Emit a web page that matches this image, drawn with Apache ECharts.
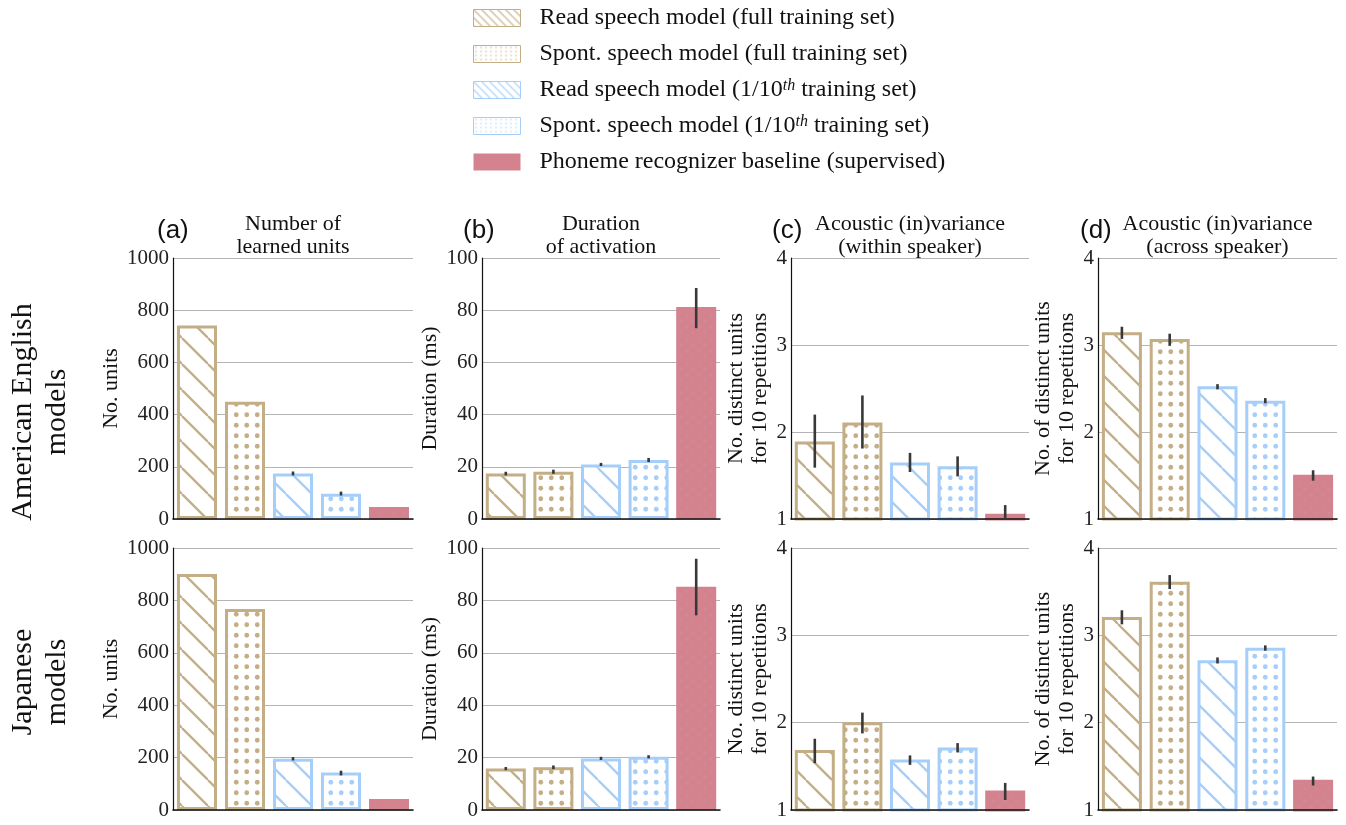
<!DOCTYPE html>
<html><head><meta charset="utf-8">
<script src="https://cdn.jsdelivr.net/npm/echarts@6/dist/echarts.min.js"></script>
<style>html,body{margin:0;padding:0;background:#fff}#chart{width:1346px;height:825px}</style>
</head><body><div id="chart"></div>
<script>
// ---------------- data ----------------
const categories = ['Read (full)', 'Spont. (full)', 'Read (1/10)', 'Spont. (1/10)', 'Baseline'];
const seriesNames = [
  'Read speech model (full training set)',
  'Spont. speech model (full training set)',
  'Read speech model (1/10th training set)',
  'Spont. speech model (1/10th training set)',
  'Phoneme recognizer baseline (supervised)'
];
const panelLetters = ['(a)', '(b)', '(c)', '(d)'];
const panelTitles = ['Number of\nlearned units', 'Duration\nof activation', 'Acoustic (in)variance\n(within speaker)', 'Acoustic (in)variance\n(across speaker)'];
const yNames = ['No. units', 'Duration (ms)', 'No. distinct units\nfor 10 repetitions', 'No. of distinct units\nfor 10 repetitions'];
const rowLabels = ['American English\nmodels', 'Japanese\nmodels'];
const yMin = [0, 0, 1, 1];
const yMax = [1000, 100, 4, 4];
const yStep = [200, 20, 1, 1];

// American English models
const enUnits    = [741, 449, 174, 97, 46];
const enUnitsLo  = [null, null, 167, 90, null];
const enUnitsHi  = [null, null, 182, 105, null];
const enDur      = [17.4, 18.1, 20.9, 22.6, 81.2];
const enDurLo    = [16.7, 17.3, 20.3, 21.8, 73.1];
const enDurHi    = [18.1, 18.9, 21.5, 23.4, 88.5];
const enWithin   = [1.89, 2.11, 1.65, 1.605, 1.06];
const enWithinLo = [1.59, 1.81, 1.54, 1.49, 0.96];
const enWithinHi = [2.20, 2.42, 1.76, 1.72, 1.16];
const enAcross   = [3.146, 3.07, 2.525, 2.36, 1.51];
const enAcrossLo = [3.07, 2.99, 2.49, 2.33, 1.44];
const enAcrossHi = [3.21, 3.13, 2.55, 2.39, 1.56];
// Japanese models
const jaUnits    = [901, 767, 196, 143, 42];
const jaUnitsLo  = [null, null, 189, 132, null];
const jaUnitsHi  = [null, null, 202, 150, null];
const jaDur      = [15.8, 16.3, 19.7, 20.3, 85.2];
const jaDurLo    = [15.2, 15.6, 19.1, 19.7, 74.3];
const jaDurHi    = [16.4, 17.0, 20.3, 20.9, 95.9];
const jaWithin   = [1.686, 2.004, 1.579, 1.716, 1.222];
const jaWithinLo = [1.536, 1.877, 1.517, 1.659, 1.115];
const jaWithinHi = [1.816, 2.115, 1.625, 1.766, 1.31];
const jaAcross   = [3.21, 3.613, 2.716, 2.858, 1.345];
const jaAcrossLo = [3.126, 3.53, 2.678, 2.824, 1.28];
const jaAcrossHi = [3.287, 3.69, 2.747, 2.885, 1.383];

// ---------------- styling / layout ----------------
const SERIF = "'Liberation Serif','DejaVu Serif',serif";
const SANS = "'Liberation Sans','DejaVu Sans',sans-serif";
const TAN = '#C4AE86', BLUE = '#A6CEFA', PINK = '#D4838E';
const edgeColors = [TAN, TAN, BLUE, BLUE, PINK];

function hatchTile(color, s, lw) {
  const c = document.createElement('canvas'); c.width = s; c.height = s;
  const g = c.getContext('2d');
  g.fillStyle = '#fff'; g.fillRect(0, 0, s, s);
  g.strokeStyle = color; g.lineWidth = lw;
  for (const k of [-1, 0, 1]) { g.beginPath(); g.moveTo(k * s, 0); g.lineTo(k * s + s, s); g.stroke(); }
  return { image: c, repeat: 'repeat' };
}
function dotTile(color, w, h, r, pts) {
  const c = document.createElement('canvas'); c.width = w; c.height = h;
  const g = c.getContext('2d');
  g.fillStyle = '#fff'; g.fillRect(0, 0, w, h);
  g.fillStyle = color;
  pts.forEach(p => { g.beginPath(); g.arc(p[0], p[1], r, 0, Math.PI * 2); g.fill(); });
  return { image: c, repeat: 'repeat' };
}
function pinkTile() {
  const c = document.createElement('canvas'); c.width = 12; c.height = 12;
  const g = c.getContext('2d');
  g.fillStyle = PINK; g.fillRect(0, 0, 12, 12);
  g.fillStyle = 'rgba(190,150,158,0.45)';
  [[3, 3], [9, 9]].forEach(p => { g.beginPath(); g.arc(p[0], p[1], 1.6, 0, Math.PI * 2); g.fill(); });
  return { image: c, repeat: 'repeat' };
}
const dotPts = [[5.25, 5.25], [15.75, 5.25], [5.25, 15.75], [15.75, 15.75]];
const barFills = [
  hatchTile(TAN, 26, 2.3),
  dotTile(TAN, 21, 21, 2.4, dotPts),
  hatchTile(BLUE, 26, 2.3),
  dotTile(BLUE, 21, 21, 2.4, dotPts),
  pinkTile()
];
const legendFills = [
  hatchTile(TAN, 8, 1.2),
  dotTile(TAN, 5, 4, 0.7, [[2.5, 2]]),
  hatchTile(BLUE, 8, 1.2),
  dotTile(BLUE, 5, 4, 0.7, [[2.5, 2]]),
  PINK
];

const panels = [
  [enUnits, enUnitsLo, enUnitsHi], [enDur, enDurLo, enDurHi], [enWithin, enWithinLo, enWithinHi], [enAcross, enAcrossLo, enAcrossHi],
  [jaUnits, jaUnitsLo, jaUnitsHi], [jaDur, jaDurLo, jaDurHi], [jaWithin, jaWithinLo, jaWithinHi], [jaAcross, jaAcrossLo, jaAcrossHi]
];
const colLeft = [173, 482, 791, 1098];
const colWidth = [240, 238, 238, 239];
const rowTop = [258, 548];
const rowHeight = [261, 262];
const nameGaps = [36, 38, 18, 16];

const grid = [], xAxis = [], yAxis = [], series = [];
panels.forEach((p, i) => {
  const r = Math.floor(i / 4), c = i % 4;
  grid.push({ left: colLeft[c], top: rowTop[r], width: colWidth[c], height: rowHeight[r], containLabel: false });
  xAxis.push({
    type: 'category', gridIndex: i, data: categories, z: 5,
    axisLine: { show: true, lineStyle: { color: '#111', width: 1.6 } },
    axisTick: { show: false }, axisLabel: { show: false }, splitLine: { show: false }
  });
  yAxis.push({
    type: 'value', gridIndex: i, min: yMin[c], max: yMax[c], interval: yStep[c],
    name: yNames[c], nameLocation: 'middle', nameRotate: 90, nameGap: nameGaps[c],
    nameTextStyle: { fontFamily: SERIF, fontSize: 22, color: '#111', lineHeight: 24 },
    axisLine: { show: true, lineStyle: { color: '#111', width: 1.2 } },
    axisTick: { show: false },
    axisLabel: { fontFamily: SERIF, fontSize: 21, color: '#222', margin: 4, formatter: v => String(v) },
    splitLine: { show: true, lineStyle: { color: '#b4b4b4', width: 1 } }
  });
  const vals = p[0], lo = p[1], hi = p[2];
  vals.forEach((v, t) => {
    series.push({
      type: 'bar', name: seriesNames[t], xAxisIndex: i, yAxisIndex: i,
      data: [[t, v]], barWidth: 40, barGap: '-100%', z: 2,
      itemStyle: { color: barFills[t], borderColor: edgeColors[t], borderWidth: 3 }
    });
  });
  const ebData = [];
  vals.forEach((v, t) => { if (lo[t] != null) ebData.push([t, lo[t], hi[t]]); });
  series.push({
    type: 'custom', name: 'err' + i, xAxisIndex: i, yAxisIndex: i, z: 10,
    data: ebData, encode: { x: 0, y: [1, 2] },
    renderItem: function (params, api) {
      const a = api.coord([api.value(0), api.value(1)]);
      const b = api.coord([api.value(0), api.value(2)]);
      const cs = params.coordSys;
      const clamp = y => Math.max(cs.y, Math.min(cs.y + cs.height, y));
      return { type: 'line', shape: { x1: a[0], y1: clamp(a[1]), x2: b[0], y2: clamp(b[1]) },
               style: { stroke: '#383838', lineWidth: 2.6 } };
    }
  });
});

const graphic = [];
const letterX = [157, 463, 772, 1080];
panelLetters.forEach((L, c) => {
  graphic.push({ type: 'text', x: letterX[c], y: 231, silent: true,
    style: { text: L, fontFamily: SANS, fontSize: 26, fill: '#111', align: 'left', verticalAlign: 'middle' } });
  graphic.push({ type: 'text', x: colLeft[c] + colWidth[c] / 2, y: 236, silent: true,
    style: { text: panelTitles[c], fontFamily: SERIF, fontSize: 22, lineHeight: 23, fill: '#111', align: 'center', verticalAlign: 'middle' } });
});
const rowLabelY = [412, 682];
rowLabels.forEach((t, r) => {
  graphic.push({ type: 'text', x: 40, y: rowLabelY[r], rotation: Math.PI / 2, silent: true,
    style: { text: t, fontFamily: SERIF, fontSize: 30, lineHeight: 34, fill: '#111', align: 'center', verticalAlign: 'middle' } });
});

const legendText = {};
legendText[seriesNames[0]] = '{a|Read speech model (full training set)}';
legendText[seriesNames[1]] = '{a|Spont. speech model (full training set)}';
legendText[seriesNames[2]] = '{a|Read speech model (1/10}{s|th}{a| training set)}';
legendText[seriesNames[3]] = '{a|Spont. speech model (1/10}{s|th}{a| training set)}';
legendText[seriesNames[4]] = '{a|Phoneme recognizer baseline (supervised)}';

const option = {
  animation: false,
  backgroundColor: '#fff',
  legend: {
    orient: 'vertical', left: 473, top: 6, padding: 0,
    itemWidth: 47, itemHeight: 17, itemGap: 12, icon: 'rect', selectedMode: false,
    data: seriesNames.map((n, t) => ({ name: n, itemStyle: { color: legendFills[t], borderColor: edgeColors[t], borderWidth: t < 4 ? 1 : 0 } })),
    formatter: n => legendText[n],
    textStyle: {
      fontFamily: SERIF, fontSize: 24, color: '#111', lineHeight: 24, padding: [0, 0, 0, 14],
      rich: {
        a: { fontFamily: SERIF, fontSize: 24, color: '#111', lineHeight: 24 },
        s: { fontFamily: SERIF, fontSize: 16, fontStyle: 'italic', color: '#111', lineHeight: 24, verticalAlign: 'top' }
      }
    }
  },
  grid, xAxis, yAxis, series, graphic
};
const chart = echarts.init(document.getElementById('chart'), null, { renderer: 'canvas' });
chart.setOption(option);
</script>
</body></html>
